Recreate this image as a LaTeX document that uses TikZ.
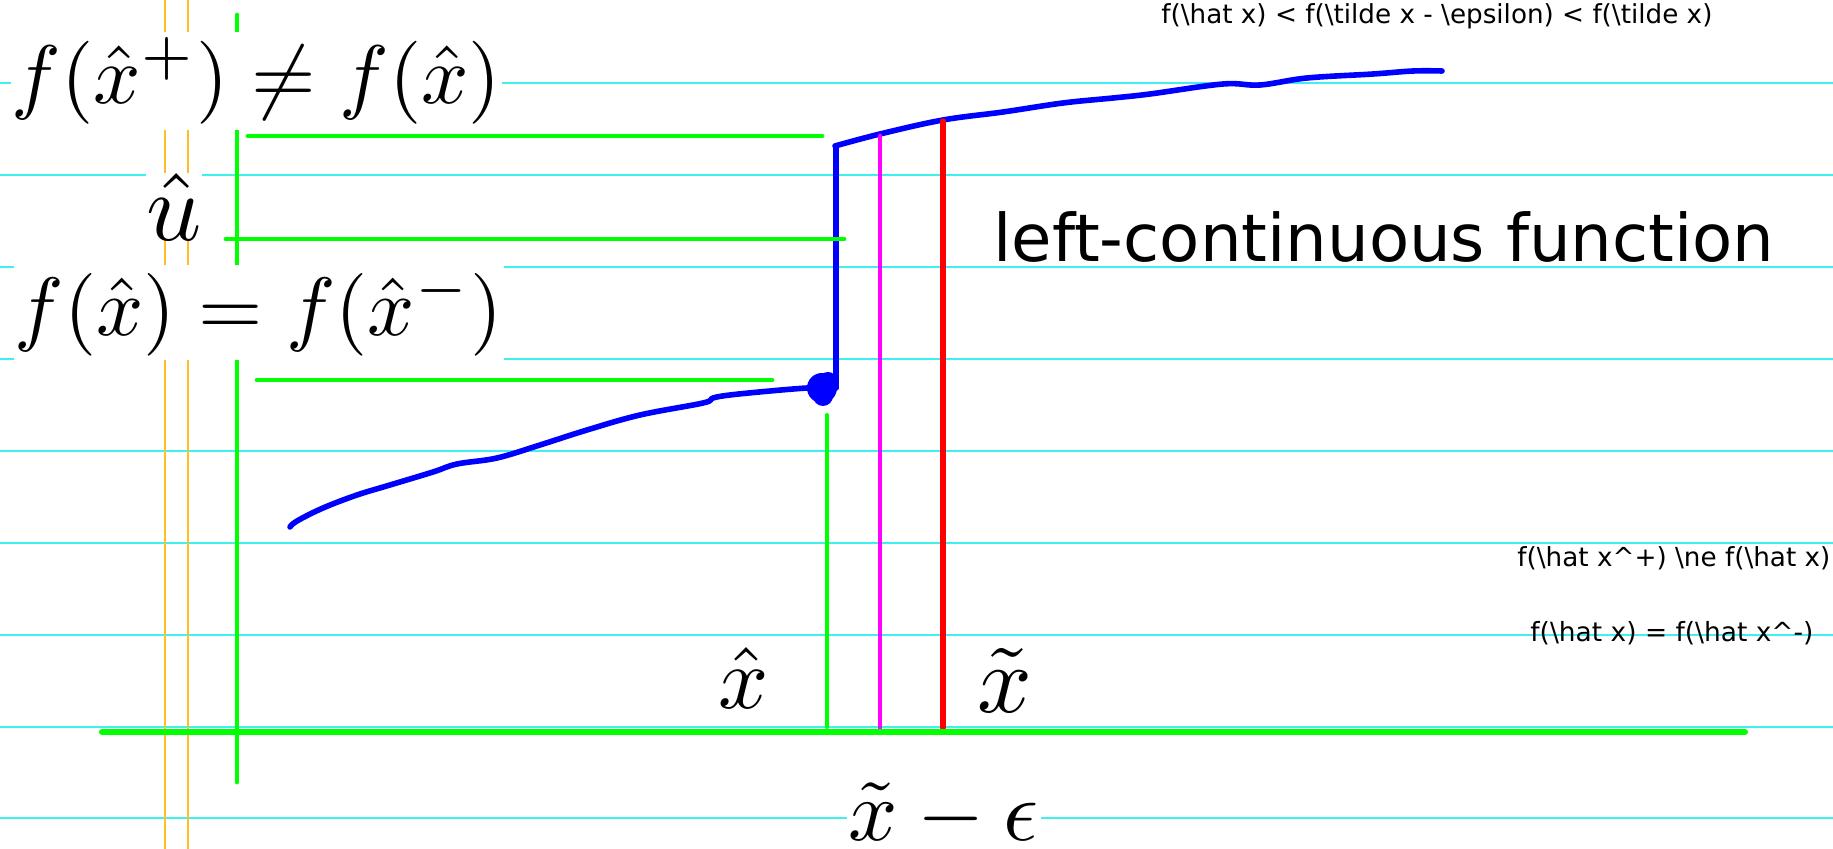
\documentclass[tikz,border=0pt]{standalone}
\usepackage{fontspec}
\usepackage{graphicx}
\newfontfamily\comic{DejaVu Sans}
\definecolor{rulecyan}{RGB}{64,240,240}
\definecolor{marginorange}{RGB}{255,190,40}
\definecolor{pgreen}{RGB}{0,255,0}
\definecolor{pblue}{RGB}{0,0,255}
\definecolor{pmagenta}{RGB}{255,0,255}
\definecolor{pred}{RGB}{255,0,0}
\tikzset{
  rulestyle/.style={rulecyan, line width=0.75pt},
  margstyle/.style={marginorange, line width=0.55pt},
  gline/.style={pgreen, line width=2.4pt, line cap=round},
  curvestyle/.style={pblue, line width=2.8pt, line cap=round, line join=round},
  boxlbl/.style={fill=white, inner sep=0pt},
  plainlbl/.style={inner sep=0pt},
  hand/.style={inner sep=0pt, font=\comic}
}
\begin{document}
\begin{tikzpicture}[x=0.5pt,y=-0.5pt]
\useasboundingbox[fill=white] (0,0) rectangle (1833,849);
% notebook rules
\foreach \yy in {83,175,267,359,451,543,635,727,818}
  \draw[rulestyle] (0,\yy) -- (1833,\yy);
\draw[margstyle] (165,0) -- (165,849);
\draw[margstyle] (188,0) -- (188,849);
% y axis
\draw[gline] (237,15) -- (237,782);
% labels with white background
\node[boxlbl, inner ysep=3pt, inner xsep=0.5pt] (fplus) at (256.5,81)
  {\resizebox{244.5pt}{!}{$f(\hat{x}^{+})\neq f(\hat{x})$}};
\node[boxlbl, inner ysep=2pt, inner xsep=0.5pt] (fminus) at (259,312.5)
  {\resizebox{244pt}{!}{$f(\hat{x})=f(\hat{x}^{-})$}};
\node[boxlbl] (uhat) at (174,206.5) {\resizebox{!}{33.5pt}{$\hat{u}$}};
\node[boxlbl, inner xsep=1pt] (xte) at (944,815) {\resizebox{95pt}{!}{$\tilde{x}-\epsilon$}};
\node[plainlbl] (xhat) at (744,677.5) {\resizebox{!}{30.5pt}{$\hat{x}$}};
\node[plainlbl] (xtilde) at (1005,680) {\resizebox{!}{32pt}{$\tilde{x}$}};
% handwritten-like texts
\node[hand, anchor=base west] (lcf) at (993,262)
  {\resizebox{390.5pt}{!}{left-continuous function}};
\node[hand, anchor=base west] (ineq) at (1161,24)
  {\resizebox{275.5pt}{!}{f(\textbackslash hat x) < f(\textbackslash tilde x - \textbackslash epsilon) < f(\textbackslash tilde x)}};
\node[hand, anchor=base west] (neq) at (1517,567)
  {\resizebox{156.5pt}{!}{f(\textbackslash hat x\textasciicircum +) \textbackslash ne f(\textbackslash hat x)}};
\node[hand, anchor=base west] (eqn) at (1530,642)
  {\resizebox{141.5pt}{!}{f(\textbackslash hat x) = f(\textbackslash hat x\textasciicircum -)}};
% blue function
\draw[curvestyle] plot[smooth, tension=0.6] coordinates {(290,527) (297,521) (323,508) (357,495) (390,485) (433,472) (457,464) (497,458) (540,445) (587,430) (640,415) (703,403) (713,398) (730,395) (770,391) (807,388) (822,388)};
\fill[pblue] (822,388) ellipse [x radius=7.5pt, y radius=7.5pt];
\fill[pblue] (828,381) circle [radius=4.5pt];
\fill[pblue] (823,396) circle [radius=5pt];
\draw[curvestyle] (836,388) -- (836,147);
\draw[curvestyle] plot[smooth, tension=0.6] coordinates {(835,146) (880,134) (943,120) (1003,112) (1063,103) (1113,98) (1150,94) (1223,84) (1260,85) (1307,78) (1373,74) (1413,71) (1442,71)};
% green level lines
\draw[gline] (248,136) -- (822,136);
\draw[gline] (226,239) -- (844,239);
\draw[gline] (257,380) -- (772,380);
% verticals
\draw[gline, line width=2pt] (827,415) -- (827,727);
\draw[pmagenta, line width=2.4pt, line cap=round] (880,136) -- (880,730);
\draw[pred, line width=2.6pt, line cap=round] (943,121) -- (943,728);
% x axis
\draw[gline, line width=3pt] (102,732) -- (1745,732);
\end{tikzpicture}
\end{document}
